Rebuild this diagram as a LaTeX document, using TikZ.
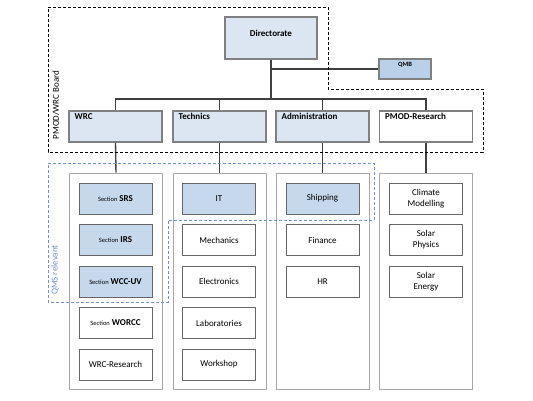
\documentclass[tikz,border=0pt]{standalone}
\usepackage{fontspec}
\setmainfont{Carlito}
\usepackage{xcolor}
\usepackage{tikz}
\usetikzlibrary{arrows,shapes}

\definecolor{boxblue}{HTML}{DCE6F2}
\definecolor{secblue}{HTML}{C6D9EC}
\definecolor{qmbblue}{HTML}{B8D0E8}
\definecolor{qmsblue}{HTML}{6F8FD8}
\definecolor{linegray}{HTML}{404040}
\definecolor{boxgray}{HTML}{808080}
\definecolor{colgray}{HTML}{A6A6A6}

\newcommand{\sectlbl}{{\fontsize{6.5}{8}\selectfont Section}}

\begin{document}
\begin{tikzpicture}[x=1pt, y=-1pt,
    every node/.style={font=\fontsize{9}{11}\selectfont},
    lvl/.style={draw=boxgray, fill=boxblue, line width=1.1pt, minimum width=93pt, minimum height=31pt, inner sep=0pt},
    hdr/.style={anchor=north west, inner sep=0pt, xshift=6pt, yshift=-2.5pt, font=\fontsize{9}{11}\selectfont\bfseries},
    column/.style={draw=colgray, fill=white, line width=0.8pt, minimum width=93pt, minimum height=216pt, inner sep=0pt},
    unit/.style={draw=linegray!80, fill=white, line width=0.8pt, minimum width=73pt, minimum height=31pt, inner sep=0pt, align=center},
    qunit/.style={unit, fill=secblue},
    conn/.style={draw=linegray, line width=1.4pt}]
  \useasboundingbox (0,0) rectangle (533,400);

  % top level
  \node[lvl, minimum width=92pt, minimum height=42pt,
        label={[font=\fontsize{9}{11}\selectfont\bfseries, yshift=5pt]center:Directorate}] (dir) at (271,38) {};
  \node[lvl, fill=qmbblue, minimum width=52pt, minimum height=20pt,
        label={[font=\fontsize{6.5}{8}\selectfont\bfseries, yshift=4pt]center:QMB}] (qmb) at (405,69) {};

  % departments
  \node[lvl, label={[hdr]north west:WRC}] (wrc) at (115.5,126.5) {};
  \node[lvl, label={[hdr]north west:Technics}] (tech) at (219.5,126.5) {};
  \node[lvl, label={[hdr]north west:Administration}] (admin) at (322.5,126.5) {};
  \node[lvl, fill=white, label={[hdr]north west:PMOD-Research}] (pmodr) at (426,126.5) {};

  \coordinate (bus) at (271,99);
  \draw[conn] (dir.south) -- (bus);
  \draw[conn] (dir.south |- qmb.west) -- (qmb.west);
  \draw[conn] (wrc.north) |- (bus) -| (pmodr.north);
  \draw[conn] (tech.north) |- (bus);
  \draw[conn] (admin.north) |- (bus);

  % columns
  \node[column] (wrccol) at (116,281) {};
  \node[column] (techcol) at (219.5,281) {};
  \node[column] (admincol) at (322.5,281) {};
  \node[column] (pmodcol) at (426,281) {};
  \draw[conn] (wrc.south) -- (wrccol.north);
  \draw[conn] (tech.south) -- (techcol.north);
  \draw[conn] (admin.south) -- (admincol.north);
  \draw[conn] (pmodr.south) -- (pmodcol.north);

  % WRC sections
  \node[qunit] (srs) at (115.5,198.5) {\sectlbl\ \textbf{SRS}};
  \node[qunit] (irs) at (115.5,240) {\sectlbl\ \textbf{IRS}};
  \node[qunit] (wccuv) at (115.5,281.5) {\sectlbl\ \textbf{WCC-UV}};
  \node[unit] (worcc) at (115.5,323) {\sectlbl\ \textbf{WORCC}};
  \node[unit] (wrcres) at (115.5,364.5) {WRC-Research};

  % Technics
  \node[qunit] (it) at (219,198.5) {IT};
  \node[unit] (mech) at (219,240) {Mechanics};
  \node[unit] (elec) at (219,281.5) {Electronics};
  \node[unit] (lab) at (219,323) {Laboratories};
  \node[unit] (work) at (219,364.5) {Workshop};

  % Administration
  \node[qunit] (ship) at (322.5,198.5) {Shipping};
  \node[unit] (fin) at (322.5,240) {Finance};
  \node[unit] (hr) at (322.5,281.5) {HR};

  % PMOD-Research
  \node[unit] (clim) at (426,198.5) {Climate\\Modelling};
  \node[unit] (sphys) at (426,240) {Solar\\Physics};
  \node[unit] (senergy) at (426,281.5) {Solar\\Energy};

  % boundaries
  \draw[line width=1pt, dash pattern=on 3pt off 2pt] (48,7) -- (328,7) -- (328,89) -- (483,89)
    -- (483,152) -- (48,152) -- cycle;
  \node[rotate=90] (boardlbl) at (56,105) {PMOD/WRC Board};
  \draw[qmsblue, line width=0.8pt, dash pattern=on 3pt off 2pt] (48,163) -- (374,163) -- (374,220)
    -- (168,220) -- (168,302) -- (48,302) -- cycle;
  \node[rotate=90, text=qmsblue] (qmslbl) at (55,270) {QMS relevant};
\end{tikzpicture}
\end{document}
